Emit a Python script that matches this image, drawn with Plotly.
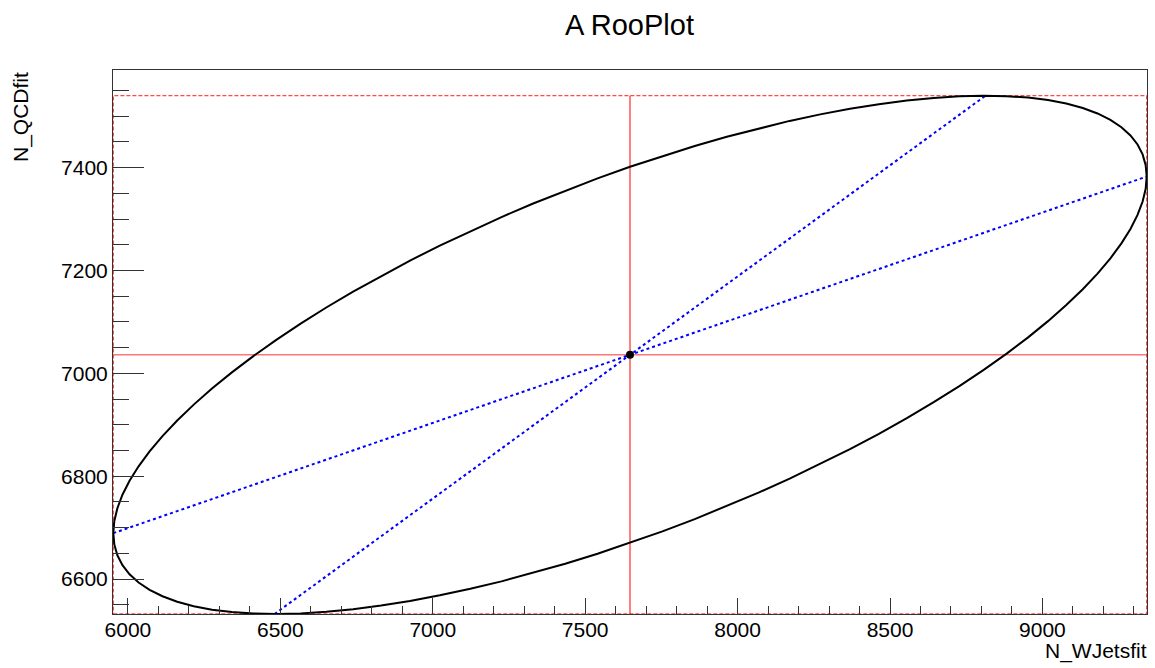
import numpy as np
import plotly.graph_objects as go

# Fit result values
mean_wjets = 7647.0
mean_qcd = 7036.0
sigma_wjets = 1695.0
sigma_qcd = 504.0
rho = 0.688

x_range = [5951.0, 9343.0]
y_range = [6532.0, 7590.0]

title_text = "A RooPlot"
x_title = "N_WJetsfit"
y_title = "N_QCDfit"

# 1-sigma correlation ellipse (as RooEllipse, 100 segments)
t = np.linspace(0, 2 * np.pi, 101)
phase = np.arccos(rho)
ex = mean_wjets + sigma_wjets * np.cos(t)
ey = mean_qcd + sigma_qcd * np.cos(t - phase)

FONT = "Liberation Sans, Arial, sans-serif"
fig = go.Figure()

# bounding box (dashed red)
bx = [mean_wjets - sigma_wjets, mean_wjets + sigma_wjets, mean_wjets + sigma_wjets,
      mean_wjets - sigma_wjets, mean_wjets - sigma_wjets]
by = [mean_qcd - sigma_qcd, mean_qcd - sigma_qcd, mean_qcd + sigma_qcd,
      mean_qcd + sigma_qcd, mean_qcd - sigma_qcd]
fig.add_trace(go.Scatter(x=bx, y=by, mode="lines",
                         line=dict(color="#ff4a4a", width=1.3, dash="4px,2px"),
                         hoverinfo="skip", showlegend=False))

# 1-sigma error bars (solid red)
fig.add_trace(go.Scatter(x=[mean_wjets - sigma_wjets, mean_wjets + sigma_wjets],
                         y=[mean_qcd, mean_qcd], mode="lines",
                         line=dict(color="#ff3030", width=1), showlegend=False))
fig.add_trace(go.Scatter(x=[mean_wjets, mean_wjets],
                         y=[mean_qcd - sigma_qcd, mean_qcd + sigma_qcd], mode="lines",
                         line=dict(color="red", width=1), showlegend=False))

# conjugate axes (dotted blue)
fig.add_trace(go.Scatter(x=[mean_wjets - sigma_wjets, mean_wjets + sigma_wjets],
                         y=[mean_qcd - rho * sigma_qcd, mean_qcd + rho * sigma_qcd],
                         mode="lines", line=dict(color="blue", width=2, dash="3px,3px"),
                         showlegend=False))
fig.add_trace(go.Scatter(x=[mean_wjets - rho * sigma_wjets, mean_wjets + rho * sigma_wjets],
                         y=[mean_qcd - sigma_qcd, mean_qcd + sigma_qcd],
                         mode="lines", line=dict(color="blue", width=2, dash="3px,3px"),
                         showlegend=False))

# ellipse
fig.add_trace(go.Scatter(x=ex, y=ey, mode="lines",
                         line=dict(color="black", width=2), showlegend=False))

# mean marker
fig.add_trace(go.Scatter(x=[mean_wjets], y=[mean_qcd], mode="markers",
                         marker=dict(color="black", size=8), showlegend=False))

L, R, T, B = 113, 8, 70, 54
W, H = 1155, 668
pw = W - L - R
ph = H - T - B

axis_common = dict(showgrid=False, zeroline=False, showline=True, mirror=True,
                   linecolor="#333333", linewidth=1, ticks="inside",
                   tickcolor="#333333", tickfont=dict(family=FONT, size=21, color="black"))

fig.update_layout(
    width=W, height=H,
    margin=dict(l=L, r=R, t=T, b=B),
    paper_bgcolor="white", plot_bgcolor="white",
    xaxis=dict(range=x_range, tick0=6000, dtick=500, ticklen=16, ticklabelstandoff=-3,
               minor=dict(dtick=100, ticks="inside", ticklen=8, tickcolor="#333333"),
               **axis_common),
    yaxis=dict(range=y_range, tick0=6600, dtick=200, ticklen=31,
               minor=dict(dtick=50, ticks="inside", ticklen=16, tickcolor="#333333"),
               **axis_common),
    showlegend=False,
)

fig.add_annotation(text=title_text, xref="paper", yref="paper",
                   x=(629.5 - L) / pw, y=(H - B - 25) / ph, xanchor="center", yanchor="middle",
                   showarrow=False, font=dict(family=FONT, size=29, color="black"))
fig.add_annotation(text=x_title, xref="paper", yref="paper",
                   x=(1149 - L) / pw, y=-(651 - (H - B)) / ph, xanchor="right", yanchor="middle",
                   showarrow=False, font=dict(family=FONT, size=21, color="black"))
fig.add_annotation(text=y_title, xref="paper", yref="paper", textangle=-90,
                   x=(21 - L) / pw, y=1.0, xanchor="center", yanchor="top",
                   showarrow=False, font=dict(family=FONT, size=21, color="black"))

fig.write_html("out.html", config={"displayModeBar": False},
               post_script="document.body.style.margin='0';document.body.style.overflow='hidden';")
